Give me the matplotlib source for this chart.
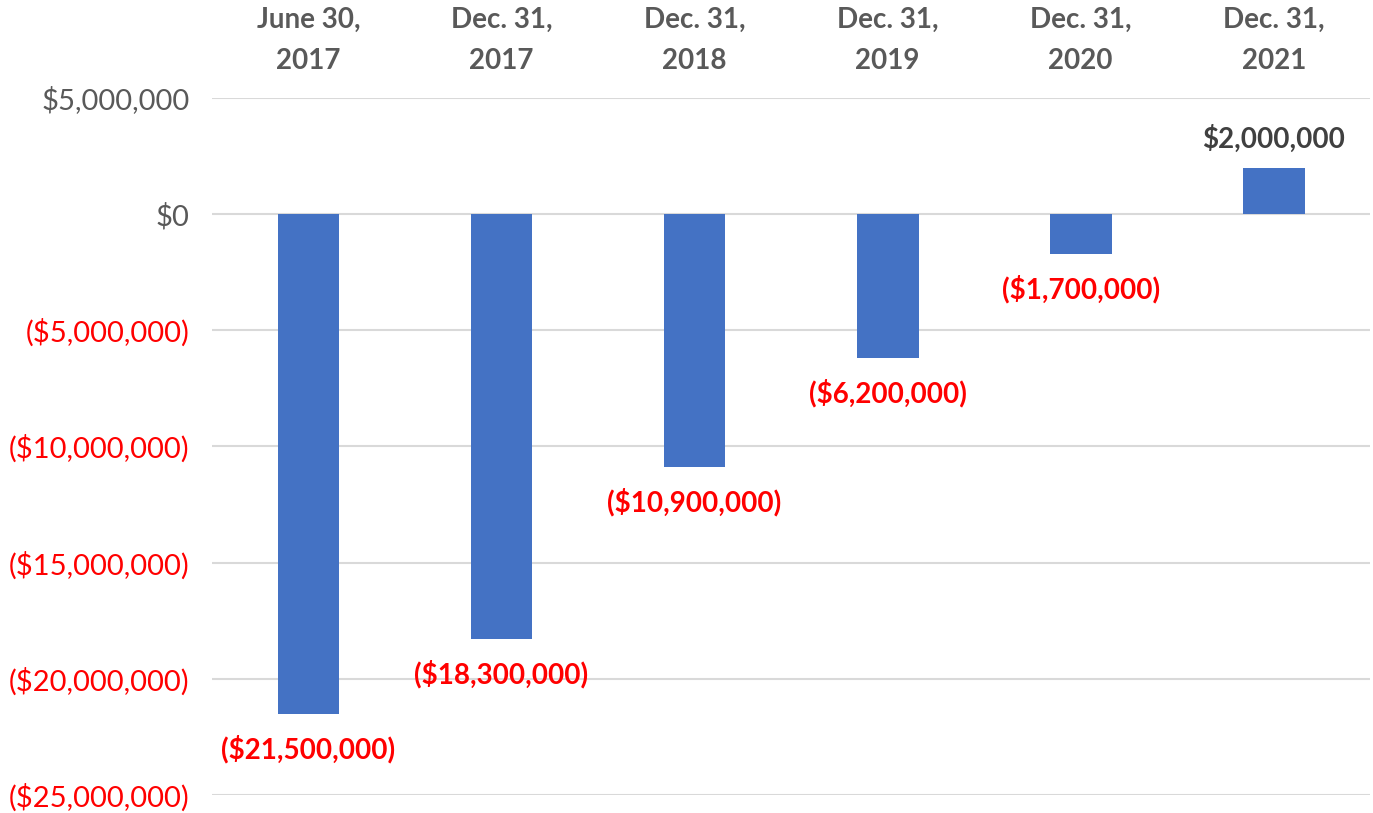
import matplotlib.pyplot as plt
import numpy as np
from matplotlib.ticker import FuncFormatter

# data
categories = ["June 30,\n2017", "Dec. 31,\n2017", "Dec. 31,\n2018",
              "Dec. 31,\n2019", "Dec. 31,\n2020", "Dec. 31,\n2021"]
values = [-21500000, -18300000, -10900000, -6200000, -1700000, 2000000]
yticks = [5000000, 0, -5000000, -10000000, -15000000, -20000000, -25000000]

BLUE = "#4472C4"
GRAY = "#595959"
RED = "#FF0000"
FONT = "Lato"


def money(v, pos=None):
    if v < 0:
        return "(${:,.0f})".format(-v)
    return "${:,.0f}".format(v)


fig = plt.figure(figsize=(13.73, 8.13), dpi=100)
ax = fig.add_axes([0.1544, 0.0221, 0.8436, 0.8574])

x = np.arange(len(categories))
ax.bar(x, values, width=0.32, color=BLUE, zorder=3)

ax.set_xlim(-0.5, len(categories) - 0.5)
ax.set_ylim(-25000000, 5000000)
ax.set_yticks(yticks)
ax.yaxis.set_major_formatter(FuncFormatter(money))
ax.grid(axis="y", color="#D9D9D9", linewidth=1.5, zorder=0)

for s in ax.spines.values():
    s.set_visible(False)
ax.tick_params(axis="y", length=0, pad=16, labelsize=21)
for lab, t in zip(ax.get_yticklabels(), yticks):
    lab.set_fontfamily(FONT)
    lab.set_color(RED if t < 0 else GRAY)

ax.xaxis.tick_top()
ax.set_xticks(x)
ax.set_xticklabels(categories, fontsize=20, fontweight="bold", color=GRAY,
                   fontfamily=FONT, linespacing=1.75)
ax.tick_params(axis="x", length=0, pad=17)

for xi, v in zip(x, values):
    if v < 0:
        ax.annotate(money(v), (xi, v), xytext=(0, -15), textcoords="offset points",
                    ha="center", va="top", fontsize=20, fontweight="bold",
                    color=RED, fontfamily=FONT)
    else:
        ax.annotate(money(v), (xi, v), xytext=(0, 11), textcoords="offset points",
                    ha="center", va="bottom", fontsize=20, fontweight="bold",
                    color="#404040", fontfamily=FONT)

fig.savefig("out.png", dpi=100)
